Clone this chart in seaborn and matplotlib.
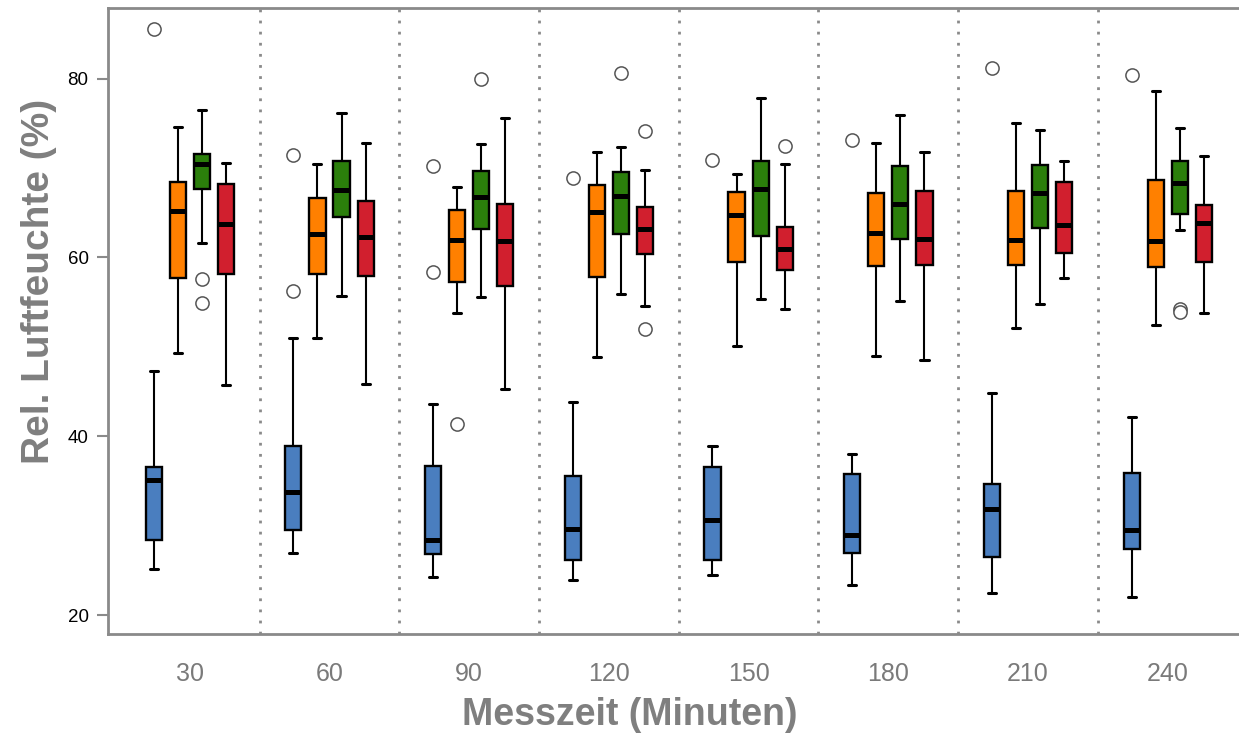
import numpy as np
import pandas as pd
import seaborn as sns
import matplotlib.pyplot as plt

# Messzeitpunkte (Minuten) und Messreihen
zeiten = ["30", "60", "90", "120", "150", "180", "210", "240"]
reihen = ["Reihe 1", "Reihe 2", "Reihe 3", "Reihe 4"]
farben = ["#4a7ebf", "#ff8000", "#2b7f0b", "#d11f2e"]

# Kennwerte je Zeitpunkt: unterer Whisker, Q1, Median, Q3, oberer Whisker
reihe1 = [[25.10, 28.35, 35.05, 36.60, 47.26],
          [26.89, 29.46, 33.78, 38.88, 50.95],
          [24.28, 26.82, 28.38, 36.68, 43.58],
          [23.91, 26.11, 29.61, 35.53, 43.87],
          [24.47, 26.11, 30.58, 36.50, 38.88],
          [23.39, 26.89, 28.91, 35.79, 37.99],
          [22.42, 26.52, 31.84, 34.67, 44.88],
          [22.04, 27.34, 29.50, 35.94, 42.16]]
reihe2 = [[49.27, 57.65, 65.22, 68.41, 74.64],
          [51.03, 58.10, 62.57, 66.63, 70.50],
          [53.78, 57.24, 61.90, 65.29, 67.82],
          [48.86, 57.84, 65.03, 68.12, 71.81],
          [50.06, 59.47, 64.69, 67.30, 69.35],
          [48.97, 59.07, 62.72, 67.20, 72.81],
          [52.07, 59.18, 61.97, 67.41, 75.05],
          [52.40, 58.92, 61.86, 68.64, 78.58]]
reihe3 = [[61.64, 67.60, 70.50, 71.62, 76.54],
          [55.68, 64.50, 67.56, 70.73, 76.20],
          [55.57, 63.13, 66.78, 69.65, 72.63],
          [55.87, 62.60, 66.85, 69.50, 72.33],
          [55.38, 62.42, 67.63, 70.80, 77.80],
          [55.08, 62.05, 65.92, 70.25, 75.94],
          [54.78, 63.24, 67.19, 70.28, 74.23],
          [63.02, 64.84, 68.27, 70.80, 74.45]]
reihe4 = [[45.78, 58.10, 63.69, 68.19, 70.60],
          [45.89, 57.91, 62.31, 66.33, 72.81],
          [45.25, 56.84, 61.82, 65.96, 75.60],
          [54.53, 60.41, 63.17, 65.63, 69.72],
          [54.27, 58.55, 60.97, 63.43, 70.43],
          [48.53, 59.11, 62.05, 67.45, 71.84],
          [57.70, 60.52, 63.58, 68.41, 70.77],
          [53.78, 59.44, 63.88, 65.85, 71.36]]

# Ausreißer je Zeitpunkt
ausreisser1 = [[85.6], [71.4, 56.24], [70.2, 58.37], [68.9], [70.87], [73.18], [81.19], [80.37]]
ausreisser2 = [[], [], [41.37], [], [], [], [], []]
ausreisser3 = [[57.62, 54.94], [], [79.96], [80.64], [], [], [], [54.27, 53.9]]
ausreisser4 = [[], [], [], [74.19, 51.96], [72.48], [], [], []]

kennwerte = [reihe1, reihe2, reihe3, reihe4]
ausreisser = [ausreisser1, ausreisser2, ausreisser3, ausreisser4]

# Langformat-Tabelle, deren Quartile und Whisker die Kennwerte wiedergeben
zeilen = []
for name, kw_reihe, aus_reihe in zip(reihen, kennwerte, ausreisser):
    for zeit, (lo, q1, med, q3, hi), aus in zip(zeiten, kw_reihe, aus_reihe):
        werte = [lo] + [q1] * 10 + [med] * 10 + [q3] * 10 + [hi] + list(aus)
        zeilen += [(zeit, name, w) for w in werte]
df = pd.DataFrame(zeilen, columns=["Zeit", "Reihe", "Wert"])

sns.set_style("white")
plt.rcParams["font.family"] = ["Liberation Sans", "DejaVu Sans"]

grau = "#8a8a8a"
fig = plt.figure(figsize=(12.39, 7.37), dpi=100)
ax = fig.add_axes([0.0872, 0.1398, 0.9128, 0.8494])

sns.boxplot(
    data=df, x="Zeit", y="Wert", hue="Reihe",
    order=zeiten, hue_order=reihen, palette=farben, saturation=1,
    width=0.69, gap=0.33, whis=1.5,
    linecolor="black", linewidth=1.7,
    whiskerprops=dict(linewidth=1.5), capprops=dict(linewidth=2.2),
    flierprops=dict(marker="o", markersize=9.5, markerfacecolor="white",
                    markeredgecolor="#555555", markeredgewidth=1.1),
    medianprops=dict(color="black", linewidth=3.6),
    legend=False, ax=ax,
)

# gepunktete Trennlinien zwischen den Zeitpunkten
grenzen = np.arange(len(zeiten) - 1) + 0.5
for g in grenzen:
    ax.axvline(g, color=grau, linestyle=(0, (1, 3)), linewidth=2, zorder=0)

ax.set_xlim(-0.585, 7.51)
ax.set_ylim(17.88, 87.9)
ax.set_yticks([20, 40, 60, 80])
ax.set_xticks(grenzen, minor=True)

ax.tick_params(axis="x", which="major", length=0, pad=20, labelsize=18, labelcolor="#7a7a7a")
ax.tick_params(axis="x", which="minor", length=7, width=1.5, color=grau, direction="out")
ax.tick_params(axis="y", length=8, width=1.5, color=grau, pad=6, labelsize=13.5,
               labelcolor="black", direction="out", left=True)

for side in ["left", "top", "bottom"]:
    ax.spines[side].set_color(grau)
    ax.spines[side].set_linewidth(2)
ax.spines["right"].set_visible(False)

ax.set_xlabel("Messzeit (Minuten)", fontsize=27, fontweight="bold", color="#7f7f7f")
ax.set_ylabel("Rel. Luftfeuchte (%)", fontsize=28, fontweight="bold", color="#7f7f7f")
ax.xaxis.set_label_coords(0.4615, -0.1)
ax.yaxis.set_label_coords(-0.045, 0.563)

fig.savefig("out.png", dpi=100)
